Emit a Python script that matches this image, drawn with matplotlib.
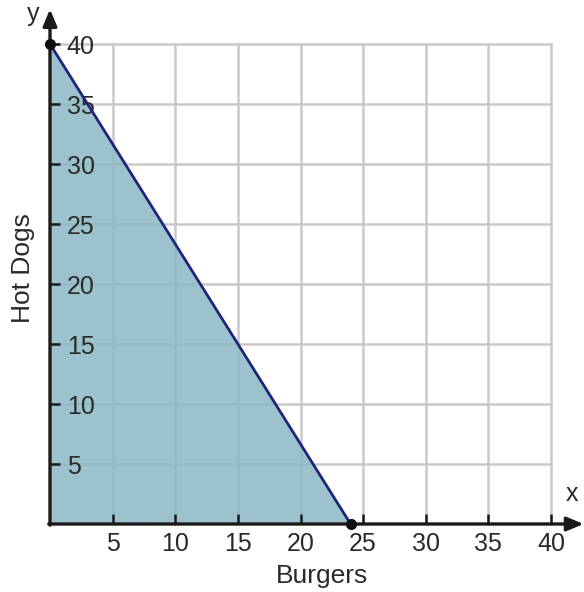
import matplotlib
matplotlib.use("Agg")
import matplotlib.pyplot as plt

plt.rcParams['font.family'] = ['Liberation Sans', 'DejaVu Sans']

# Budget line: burgers on x, hot dogs on y
burgers = [0, 24]
hot_dogs = [40, 0]
x_ticks = [5, 10, 15, 20, 25, 30, 35, 40]
y_ticks = [5, 10, 15, 20, 25, 30, 35, 40]
x_grid = [5, 10, 15, 20, 25, 30, 35, 40]
y_grid = [5, 10, 15, 20, 25, 30, 35, 40]

fig = plt.figure(figsize=(5.84, 5.92), dpi=100)
ax = fig.add_axes([50/584, 68/592, 501/584, 480/592])
ax.set_xlim(0, 40)
ax.set_ylim(0, 40)
ax.set_axisbelow(False)

grid_col = '#c9c9c9'
for gx in x_grid:
    ax.plot([gx, gx], [0, 40], color=grid_col, lw=1.8, zorder=1, clip_on=False)
for gy in y_grid:
    ax.plot([0, 40], [gy, gy], color=grid_col, lw=1.8, zorder=1, clip_on=False)

# Feasible region
ax.fill_between(burgers, hot_dogs, 0, color='#8bb9c5', alpha=0.85, lw=0, zorder=2)
ax.plot(burgers, hot_dogs, color='#22237a', lw=2, zorder=4, solid_capstyle='round')
ax.plot(burgers, hot_dogs, 'o', color='#111111', ms=7, zorder=7, clip_on=False,
        linestyle='none')

for s in ax.spines.values():
    s.set_visible(False)

# Axis lines with arrow heads
arrow = dict(arrowstyle='-|>,head_length=1.0,head_width=0.42', color='#1a1a1a',
             lw=2.4, shrinkA=0, shrinkB=0)
ax.annotate('', xy=(42.6, 0), xytext=(-0.1, 0), arrowprops=arrow,
            annotation_clip=False, zorder=6)
ax.annotate('', xy=(0, 42.9), xytext=(0, -0.1), arrowprops=arrow,
            annotation_clip=False, zorder=6)

ax.set_xticks(x_ticks)
ax.set_yticks(y_ticks)
ax.set_xticklabels([str(v) for v in x_ticks])
ax.set_yticklabels([str(v) for v in y_ticks])
ax.tick_params(axis='both', direction='in', length=7, width=1.8, color='#1a1a1a',
               labelsize=18, labelcolor='#2a2a2a')
ax.tick_params(axis='x', pad=6)
ax.tick_params(axis='y', pad=-12)
for lbl in ax.get_yticklabels():
    lbl.set_horizontalalignment('left')

fig.text(322/584, 1 - 583/592, 'Burgers', ha='center', va='baseline', fontsize=19,
         color='#2a2a2a')
fig.text(23/584, 1 - 268/592, 'Hot Dogs', ha='center', va='center', rotation=90,
         fontsize=19, color='#2a2a2a')
fig.text(33/584, 1 - 14/592, 'y', ha='center', va='center', fontsize=18, color='#2a2a2a')
fig.text(572/584, 1 - 494/592, 'x', ha='center', va='center', fontsize=18, color='#2a2a2a')

fig.savefig('out.png', dpi=100, facecolor='white')
